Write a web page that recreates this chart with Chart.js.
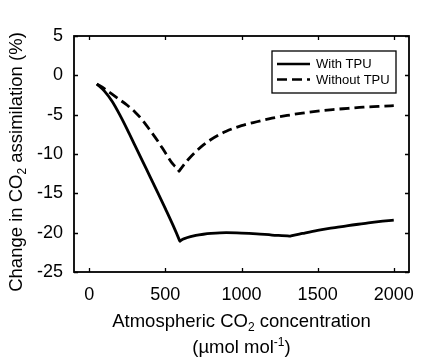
<!DOCTYPE html>
<html>
<head>
<meta charset="utf-8">
<script src="https://cdn.jsdelivr.net/npm/chart.js@4/dist/chart.umd.min.js"></script>
<style>
  html, body { margin: 0; padding: 0; background: #fff; }
  #wrap { width: 429px; height: 363px; }
</style>
</head>
<body>
<div id="wrap"><canvas id="co2Chart" width="429" height="363"></canvas></div>
<script>
// CO2 levels (umol mol-1) for each curve
const co2WithTPU = [50, 100, 150, 200, 250, 300, 350, 400, 450, 500, 550, 590, 595, 600, 640, 700, 750, 800, 900, 1000, 1100, 1200, 1315, 1320, 1325, 1400, 1500, 1600, 1700, 1800, 1900, 2000];
const withTPU = [-1.1, -2.0, -3.3, -5.0, -6.9, -8.9, -10.9, -12.9, -14.9, -16.95, -19.05, -20.85, -21.1, -21.0, -20.65, -20.35, -20.2, -20.1, -20.0, -20.05, -20.15, -20.3, -20.43, -20.45, -20.42, -20.1, -19.7, -19.4, -19.1, -18.85, -18.6, -18.4];

const co2WithoutTPU = [50, 100, 150, 200, 250, 300, 350, 400, 450, 500, 550, 585, 590, 595, 620, 650, 700, 750, 800, 900, 1000, 1100, 1200, 1300, 1400, 1500, 1600, 1700, 1800, 1900, 2000];
const withoutTPU = [-1.1, -1.7, -2.4, -3.1, -3.8, -4.65, -5.7, -7.0, -8.35, -9.85, -11.3, -12.0, -12.2, -12.05, -11.4, -10.7, -9.7, -8.85, -8.15, -7.1, -6.4, -5.9, -5.45, -5.1, -4.8, -4.55, -4.35, -4.2, -4.05, -3.95, -3.85];

const seriesNames = ['With TPU', 'Without TPU'];
const xTickValues = [0, 500, 1000, 1500, 2000];
const yTickValues = [-25, -20, -15, -10, -5, 0, 5];

const FONT = '"Liberation Sans", Arial, sans-serif';
const toPoints = (xs, ys) => xs.map((x, i) => ({ x: x, y: ys[i] }));

// box around the plot with ticks pointing inward on all four sides
const frameTicks = {
    id: 'frameTicks',
    afterDatasetsDraw(chart) {
        const { ctx, chartArea: a, scales } = chart;
        const len = 4;
        ctx.save();
        ctx.strokeStyle = '#000';
        ctx.lineWidth = 1.3;
        ctx.beginPath();
        xTickValues.forEach(v => {
            const px = Math.round(scales.x.getPixelForValue(v)) + 0.5;
            ctx.moveTo(px, a.bottom); ctx.lineTo(px, a.bottom - len);
            ctx.moveTo(px, a.top); ctx.lineTo(px, a.top + len);
        });
        yTickValues.forEach(v => {
            const py = Math.round(scales.y.getPixelForValue(v)) + 0.5;
            ctx.moveTo(a.left, py); ctx.lineTo(a.left + len, py);
            ctx.moveTo(a.right, py); ctx.lineTo(a.right - len, py);
        });
        ctx.stroke();
        ctx.lineWidth = 1.8;
        ctx.strokeRect(a.left, a.top, a.right - a.left, a.bottom - a.top);
        ctx.restore();
    }
};

// draws text pieces (with sub/superscripts) centered at (cx, cy)
function drawScripted(ctx, parts, cx, cy) {
    let total = 0;
    parts.forEach(p => { ctx.font = p.size + 'px ' + FONT; p.w = ctx.measureText(p.text).width; total += p.w; });
    let x = cx - total / 2;
    ctx.textAlign = 'left';
    ctx.textBaseline = 'alphabetic';
    parts.forEach(p => {
        ctx.font = p.size + 'px ' + FONT;
        ctx.fillText(p.text, x, cy + (p.dy || 0));
        x += p.w;
    });
}

const axisTitles = {
    id: 'axisTitles',
    afterDraw(chart) {
        const { ctx, chartArea: a } = chart;
        ctx.save();
        ctx.fillStyle = '#000';
        const cx = (a.left + a.right) / 2;
        drawScripted(ctx, [
            { text: 'Atmospheric CO', size: 18.5 },
            { text: '2', size: 12, dy: 4 },
            { text: ' concentration', size: 18.5 }
        ], cx, 327);
        drawScripted(ctx, [
            { text: '(\u00b5mol mol', size: 18.5 },
            { text: '-1', size: 12, dy: -7 },
            { text: ')', size: 18.5 }
        ], cx, 353);
        ctx.translate(22, (a.top + a.bottom) / 2 + 8);
        ctx.rotate(-Math.PI / 2);
        drawScripted(ctx, [
            { text: 'Change in CO', size: 18.5 },
            { text: '2', size: 12, dy: 4 },
            { text: ' assimilation (%)', size: 18.5 }
        ], 0, 0);
        ctx.restore();
    }
};

// legend drawn as a framed box inside the plot
const boxLegend = {
    id: 'boxLegend',
    afterDraw(chart) {
        const { ctx } = chart;
        ctx.save();
        ctx.strokeStyle = '#000';
        ctx.lineWidth = 1.3;
        ctx.strokeRect(272, 51, 124, 42);
        chart.data.datasets.forEach((ds, i) => {
            const y = 64 + i * 15.5;
            ctx.lineWidth = 2.6;
            ctx.setLineDash(ds.borderDash || []);
            ctx.beginPath();
            ctx.moveTo(277, y);
            ctx.lineTo(310, y);
            ctx.stroke();
            ctx.setLineDash([]);
            ctx.fillStyle = '#000';
            ctx.font = '13px ' + FONT;
            ctx.textAlign = 'left';
            ctx.textBaseline = 'middle';
            ctx.fillText(ds.label, 316, y + 0.5);
        });
        ctx.restore();
    }
};

new Chart(document.getElementById('co2Chart'), {
    type: 'line',
    data: {
        datasets: [
            {
                label: seriesNames[0],
                data: toPoints(co2WithTPU, withTPU),
                borderColor: '#000',
                borderWidth: 2.8,
                pointRadius: 0,
                cubicInterpolationMode: 'monotone',
                fill: false
            },
            {
                label: seriesNames[1],
                data: toPoints(co2WithoutTPU, withoutTPU),
                borderColor: '#000',
                borderWidth: 2.8,
                borderDash: [10, 5],
                pointRadius: 0,
                cubicInterpolationMode: 'monotone',
                fill: false
            }
        ]
    },
    options: {
        responsive: false,
        animation: false,
        layout: { padding: { left: 0, right: 20, top: 36, bottom: 0 } },
        plugins: { legend: { display: false }, tooltip: { enabled: false } },
        scales: {
            x: {
                type: 'linear',
                min: -100,
                max: 2100,
                afterBuildTicks: s => { s.ticks = xTickValues.map(v => ({ value: v })); },
                afterFit: s => { s.height = 91; },
                grid: { display: false, drawTicks: false },
                border: { display: false },
                ticks: { color: '#000', padding: 12, font: { family: FONT, size: 18 }, maxRotation: 0, callback: v => String(v) }
            },
            y: {
                type: 'linear',
                min: -25,
                max: 5,
                afterBuildTicks: s => { s.ticks = yTickValues.map(v => ({ value: v })); },
                afterFit: s => { s.width = 74; },
                grid: { display: false, drawTicks: false },
                border: { display: false },
                ticks: { color: '#000', padding: 11, font: { family: FONT, size: 18 }, callback: v => String(v) }
            }
        }
    },
    plugins: [frameTicks, axisTitles, boxLegend]
});
</script>
</body>
</html>
